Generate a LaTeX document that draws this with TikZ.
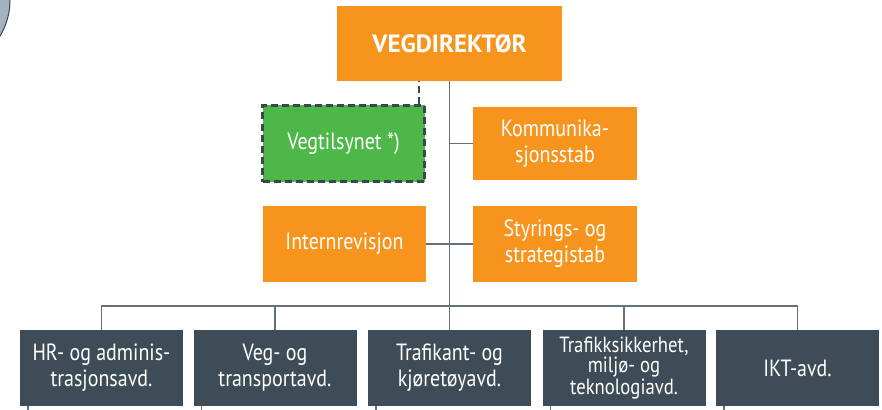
\documentclass[tikz,border=0pt]{standalone}
\usepackage{fontspec}
\setmainfont{PT Sans}[FakeStretch=0.85]
\newfontfamily\dirfont{PT Sans}
\definecolor{vvorange}{HTML}{F7941D}
\definecolor{vvgreen}{HTML}{4DB848}
\definecolor{vvslate}{HTML}{3D4C56}
\definecolor{vvline}{HTML}{65717A}
\definecolor{vvdash}{HTML}{3B4650}
\definecolor{vvround}{HTML}{A3B4BF}
\tikzset{
  box/.style={minimum width=163pt, minimum height=76pt, inner sep=0pt,
    text=white, align=center, font=\fontsize{23.5}{26}\selectfont},
  orangebox/.style={box, fill=vvorange},
  greenbox/.style={box, fill=vvgreen, draw=vvdash, line width=2.2pt,
    dash pattern=on 7pt off 4pt},
  deptbox/.style={box, fill=vvslate},
  conn/.style={draw=vvline, line width=1.5pt},
}
\begin{document}
\begin{tikzpicture}[x=1pt,y=-1pt]
        \useasboundingbox (0,0) rectangle (882,409);
        \begin{scope}
                \clip (0,0) rectangle (882,409);
                \draw[vvdash, fill=vvround, line width=1pt] (-60,0) circle (70pt);
        \end{scope}

        \node[orangebox, minimum width=225pt, minimum height=75pt,
              font=\fontsize{25}{26}\dirfont\bfseries] (dir) at (449.5,43.5) {VEGDIREKTØR};
        \node[greenbox, minimum width=162pt] (tilsyn) at (343.5,143.5) {Vegtilsynet *)};
        \node[orangebox, minimum width=164pt, minimum height=73pt] (komm) at (555,143.5) {Kommunika-\\sjonsstab};
        \node[orangebox] (intern) at (344.5,244) {Internrevisjon};
        \node[orangebox, minimum width=164pt] (styr) at (555,244) {Styrings- og\\strategistab};

        \node[deptbox] (hr) at (101.5,368) {HR- og adminis-\\trasjonsavd.};
        \node[deptbox] (veg) at (275,368) {Veg- og\\transportavd.};
        \node[deptbox] (traf) at (449.5,368) {Trafikant- og\\kjøretøyavd.};
        \node[deptbox, font=\fontsize{22}{20}\selectfont] (tsik) at (624,368) {Trafikksikkerhet,\\miljø- og\\teknologiavd.};
        \node[deptbox] (ikt) at (797.5,368) {IKT-avd.};

        \draw[conn] (dir.south) -- (traf.north);
        \draw[conn] (komm.west) -- (komm.west -| dir.south);
        \draw[conn] (intern.east) -- (styr.west);
        \draw[conn] (hr.north) -- ++(0,-24) -| (ikt.north);
        \draw[conn] (veg.north) -- ++(0,-24);
        \draw[conn] (tsik.north) -- ++(0,-24);
        \draw[draw=vvdash, line width=2.2pt, dash pattern=on 7pt off 4pt]
                ([xshift=-7pt]tilsyn.north east) -- ([xshift=-7pt]tilsyn.north east |- dir.south);

        \foreach \d in {hr,veg,traf,tsik,ikt}
                \draw[conn] ([xshift=8pt]\d.south west) -- ++(0,4);
\end{tikzpicture}
\end{document}
